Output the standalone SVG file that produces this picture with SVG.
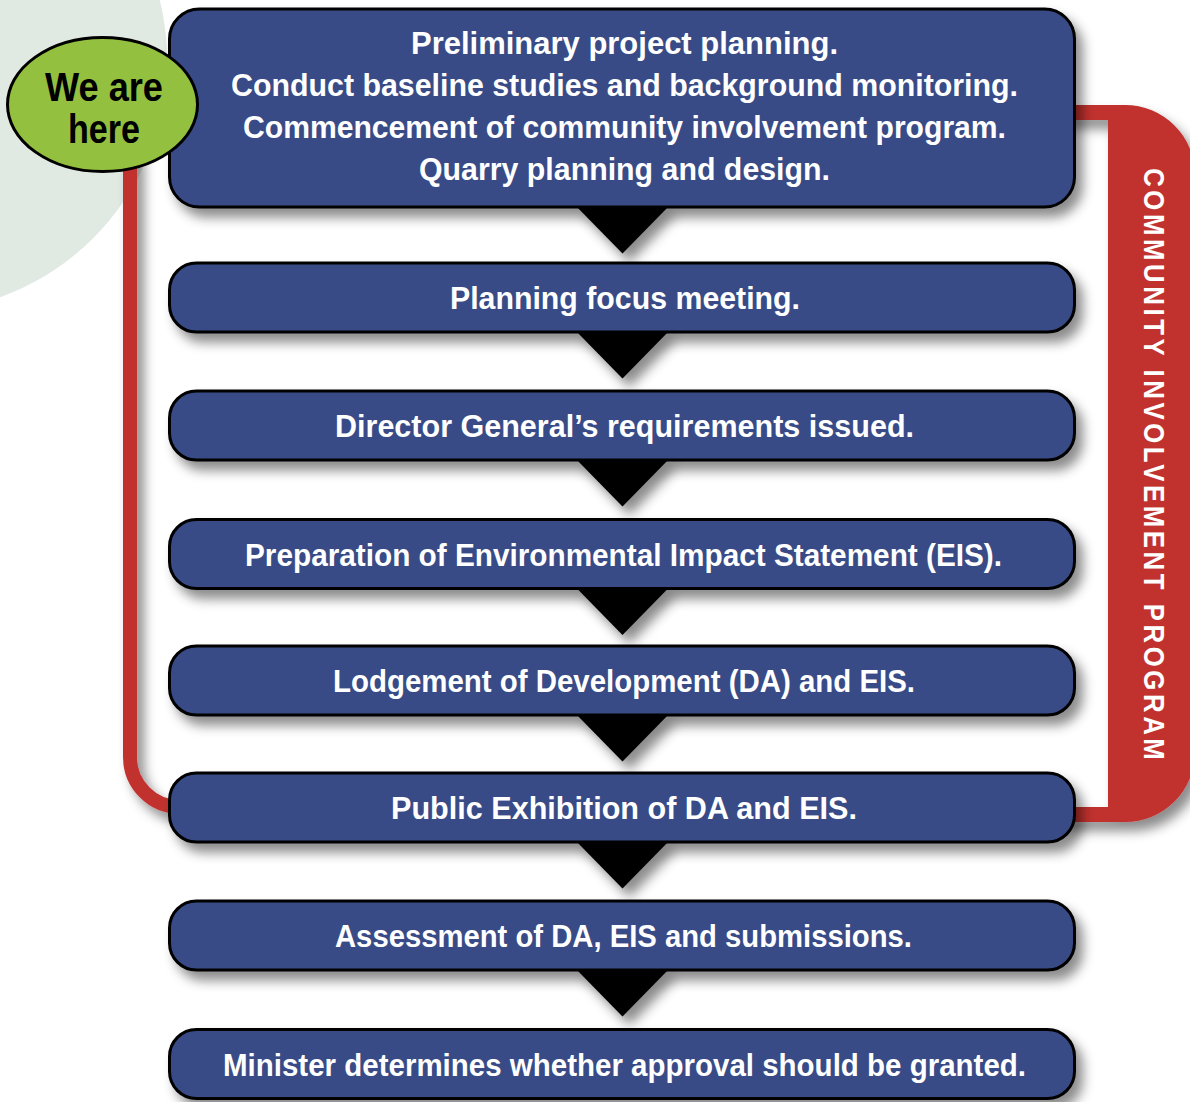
<svg xmlns="http://www.w3.org/2000/svg" width="1190" height="1102" viewBox="0 0 1190 1102">
<style>
.box{fill:#394c87;stroke:#000;stroke-width:3;filter:url(#sh)}
.tri{fill:#000;filter:url(#sh)}
.lbl{font-family:"Liberation Sans Narrow","Liberation Sans",Arial,sans-serif;font-weight:bold;font-size:31px;fill:#fff;text-anchor:middle}
.here{font-family:"Liberation Sans Narrow","Liberation Sans",Arial,sans-serif;font-weight:bold;font-size:40px;fill:#000;text-anchor:middle}
.cip{font-family:"Liberation Sans",Arial,sans-serif;font-weight:bold;font-size:30px;fill:#fff;text-anchor:middle}
</style>
<defs>
<filter id="sh" filterUnits="userSpaceOnUse" x="0" y="0" width="1190" height="1102">
<feDropShadow dx="7" dy="9" stdDeviation="6" flood-color="#000" flood-opacity="0.45"/>
</filter>
</defs>
<rect width="1190" height="1102" fill="#fff"/>
<circle cx="-85" cy="60" r="252" fill="#e1e9e3"/>

<g id="connectors">
<path id="cip-left" d="M130,150 V757 A50,50 0 0 0 180,807" fill="none" stroke="#c1312f" stroke-width="14" filter="url(#sh)"/>
<path id="cip-right" d="M1060,105 H1125 A70,70 0 0 1 1195,175 V752 A70,70 0 0 1 1125,822 H1060 V807 H1108 V120 H1060 Z" fill="#c1312f" filter="url(#sh)"/>
<polygon class="tri" points="575.5,205.5 669.5,205.5 622.5,253.5"/>
<polygon class="tri" points="575.5,330.5 669.5,330.5 622.5,378.5"/>
<polygon class="tri" points="575.5,458.5 669.5,458.5 622.5,506.5"/>
<polygon class="tri" points="575.5,587 669.5,587 622.5,635"/>
<polygon class="tri" points="575.5,713.5 669.5,713.5 622.5,761.5"/>
<polygon class="tri" points="575.5,840.5 669.5,840.5 622.5,888.5"/>
<polygon class="tri" points="575.5,968.5 669.5,968.5 622.5,1016.5"/>
</g>

<g id="cip-label">
<text class="cip" transform="translate(1143.5,464) rotate(90) scale(0.86,1)" x="0" y="0" textLength="688" lengthAdjust="spacing">COMMUNITY INVOLVEMENT PROGRAM</text>
</g>

<g id="step1">
<rect class="box" x="169.5" y="9" width="905" height="198" rx="30"/>
<text class="lbl" x="624.5" y="54" textLength="427" lengthAdjust="spacingAndGlyphs">Preliminary project planning.</text>
<text class="lbl" x="624.5" y="96" textLength="787" lengthAdjust="spacingAndGlyphs">Conduct baseline studies and background monitoring.</text>
<text class="lbl" x="624.5" y="138" textLength="763" lengthAdjust="spacingAndGlyphs">Commencement of community involvement program.</text>
<text class="lbl" x="624.5" y="180" textLength="411" lengthAdjust="spacingAndGlyphs">Quarry planning and design.</text>
</g>
<g id="step2">
<rect class="box" x="169.5" y="263" width="905" height="69" rx="27"/>
<text class="lbl" x="625" y="309" textLength="350" lengthAdjust="spacingAndGlyphs">Planning focus meeting.</text>
</g>
<g id="step3">
<rect class="box" x="169.5" y="391" width="905" height="69" rx="27"/>
<text class="lbl" x="624.5" y="437" textLength="579" lengthAdjust="spacingAndGlyphs">Director General’s requirements issued.</text>
</g>
<g id="step4">
<rect class="box" x="169.5" y="519.5" width="905" height="69" rx="27"/>
<text class="lbl" x="623.5" y="565.5" textLength="757" lengthAdjust="spacingAndGlyphs">Preparation of Environmental Impact Statement (EIS).</text>
</g>
<g id="step5">
<rect class="box" x="169.5" y="646" width="905" height="69" rx="27"/>
<text class="lbl" x="624" y="692" textLength="582" lengthAdjust="spacingAndGlyphs">Lodgement of Development (DA) and EIS.</text>
</g>
<g id="step6">
<rect class="box" x="169.5" y="773" width="905" height="69" rx="27"/>
<text class="lbl" x="624" y="819" textLength="466" lengthAdjust="spacingAndGlyphs">Public Exhibition of DA and EIS.</text>
</g>
<g id="step7">
<rect class="box" x="169.5" y="901" width="905" height="69" rx="27"/>
<text class="lbl" x="623.5" y="947" textLength="577" lengthAdjust="spacingAndGlyphs">Assessment of DA, EIS and submissions.</text>
</g>
<g id="step8">
<rect class="box" x="169.5" y="1029.5" width="905" height="69" rx="27"/>
<text class="lbl" x="624.5" y="1075.5" textLength="803" lengthAdjust="spacingAndGlyphs">Minister determines whether approval should be granted.</text>
</g>

<g id="we-are-here">
<ellipse cx="102.5" cy="104.5" rx="95" ry="67" fill="#93c13f" stroke="#000" stroke-width="3"/>
<text class="here" x="104" y="101" textLength="118" lengthAdjust="spacingAndGlyphs">We are</text>
<text class="here" x="104" y="143" textLength="72" lengthAdjust="spacingAndGlyphs">here</text>
</g>
</svg>
